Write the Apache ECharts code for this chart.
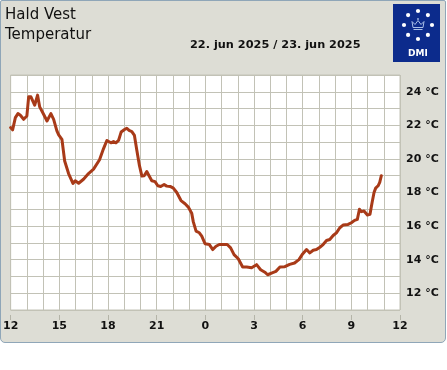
<!DOCTYPE html>
<html>
<head>
<meta charset="utf-8">
<script src="https://cdn.jsdelivr.net/npm/echarts@6/dist/echarts.min.js"></script>
<style>
html,body{margin:0;padding:0;background:#fff;}
#panel{position:absolute;left:0;top:0;width:444px;height:341px;background:#ddddd5;border:1px solid #8fa6b8;border-radius:2px 2px 5px 5px;}
#c{position:absolute;left:0;top:0;width:447px;height:370px;}
</style>
</head>
<body>
<div id="panel"></div>
<div id="c"></div>
<script>
// Hours since 22 Jun 12:00
const hours = [0.00,0.12,0.29,0.45,0.60,0.80,1.00,1.11,1.25,1.48,1.66,1.79,2.03,2.24,2.48,2.65,2.85,2.96,3.16,3.33,3.57,3.84,3.98,4.19,4.49,4.80,5.11,5.48,5.72,5.93,6.03,6.18,6.34,6.49,6.65,6.81,7.02,7.16,7.30,7.47,7.63,7.78,7.94,8.09,8.23,8.39,8.53,8.70,8.90,9.07,9.25,9.46,9.62,9.83,10.03,10.24,10.50,10.75,10.95,11.16,11.26,11.43,11.63,11.78,11.98,12.25,12.46,12.66,12.86,13.11,13.35,13.56,13.77,14.03,14.30,14.55,14.85,15.16,15.41,15.67,15.84,16.08,16.35,16.60,16.90,17.20,17.50,17.77,17.97,18.24,18.44,18.65,18.85,19.06,19.26,19.47,19.67,19.88,20.08,20.29,20.49,20.80,21.00,21.20,21.37,21.50,21.62,21.78,21.99,22.15,22.28,22.40,22.50,22.65,22.75,22.85];
const temps = [21.87,21.73,22.46,22.70,22.60,22.36,22.56,23.70,23.70,23.20,23.80,23.10,22.66,22.26,22.70,22.36,21.67,21.43,21.17,19.88,19.13,18.54,18.70,18.55,18.79,19.13,19.39,19.95,20.60,21.10,21.04,20.96,21.04,20.96,21.10,21.60,21.75,21.83,21.70,21.63,21.40,20.50,19.60,18.98,19.00,19.25,19.00,18.70,18.65,18.40,18.36,18.48,18.38,18.36,18.26,18.00,17.52,17.33,17.13,16.77,16.25,15.70,15.60,15.40,14.95,14.90,14.60,14.80,14.90,14.90,14.90,14.70,14.30,14.05,13.56,13.56,13.52,13.70,13.40,13.25,13.10,13.20,13.30,13.56,13.58,13.72,13.80,14.00,14.30,14.60,14.40,14.56,14.60,14.74,14.90,15.14,15.20,15.44,15.60,15.90,16.06,16.10,16.20,16.34,16.40,17.00,16.86,16.90,16.66,16.70,17.40,18.00,18.26,18.40,18.60,19.00];
const xTickHours = [0,3,6,9,12,15,18,21,24];
const xTickLabels = ['12','15','18','21','0','3','6','9','12'];
const yLabelValues = [12,14,16,18,20,22,24];
const stationName = 'Hald Vest';
const paramName = 'Temperatur';
const dateText = '22. jun 2025 / 23. jun 2025';

const gridColor = '#c2c2b6';
const chart = echarts.init(document.getElementById('c'), null, {renderer:'canvas'});

const dots = [];
for (let i = 0; i < 8; i++) {
  const a = i * Math.PI / 4;
  dots.push({type:'circle', shape:{cx:418 + 14*Math.sin(a), cy:25 - 14*Math.cos(a), r:2.1}, style:{fill:'#fff'}, z:12});
}
const crownColor = '#a9bfe8';

chart.setOption({
  backgroundColor:'transparent',
  animation:false,
  graphic:[
    {type:'text', x:5, y:8, style:{text:stationName, font:'15px "DejaVu Sans"', fill:'#111'}, z:10},
    {type:'text', x:5, y:28, style:{text:paramName, font:'15px "DejaVu Sans"', fill:'#111'}, z:10},
    {type:'text', x:190, y:40, style:{text:dateText, font:'bold 11.3px "DejaVu Sans"', fill:'#111'}, z:10},
    {type:'rect', shape:{x:393,y:4,width:47,height:58}, style:{fill:'#0c2b8c'}, z:11},
    ...dots,
    {type:'polygon', shape:{points:[[413,27.5],[423,27.5],[424,21.5],[421,24.5],[418,20.5],[415,24.5],[412,21.5]]}, style:{fill:null, stroke:crownColor, lineWidth:1}, z:12},
    {type:'line', shape:{x1:413.5,y1:29.5,x2:422.5,y2:29.5}, style:{stroke:crownColor, lineWidth:1}, z:12},
    {type:'circle', shape:{cx:418, cy:19, r:0.9}, style:{fill:crownColor}, z:12},
    {type:'text', x:408, y:49, style:{text:'DMI', font:'bold 9px "DejaVu Sans"', fill:'#fff'}, z:12}
  ],
  grid:{left:10, right:47, top:75, height:235, show:true, backgroundColor:'#ffffff', borderColor:gridColor, borderWidth:1},
  xAxis:[
    {type:'value', min:0, max:24, interval:1, gridIndex:0,
     axisLine:{show:false}, axisTick:{show:false}, axisLabel:{show:false},
     splitLine:{show:true, lineStyle:{color:gridColor, width:1}}},
    {type:'value', min:0, max:24, interval:3, gridIndex:0, position:'bottom', offset:5,
     axisLine:{show:false}, axisTick:{show:true, length:5, lineStyle:{color:'#b4b4a8', width:1}},
     splitLine:{show:false},
     axisLabel:{show:true, margin:6, color:'#111', fontWeight:'bold', fontSize:11, fontFamily:'DejaVu Sans',
       formatter:function(v){const i = xTickHours.indexOf(v); return i>=0 ? xTickLabels[i] : '';}}}
  ],
  yAxis:[
    {type:'value', min:11, max:25, interval:1, position:'right',
     axisLine:{show:false}, axisTick:{show:false},
     splitLine:{show:true, lineStyle:{color:gridColor, width:1}},
     axisLabel:{show:true, margin:6, color:'#111', fontWeight:'bold', fontSize:11, fontFamily:'DejaVu Sans',
       formatter:function(v){return yLabelValues.indexOf(v)>=0 ? v + ' °C' : '';}}}
  ],
  series:[{
    type:'line', xAxisIndex:0, yAxisIndex:0,
    data: hours.map((h,i)=>[h, temps[i]]),
    showSymbol:false, smooth:false,
    lineStyle:{color:'#a83a18', width:3, join:'round', cap:'round'}
  }]
});
</script>
</body>
</html>
